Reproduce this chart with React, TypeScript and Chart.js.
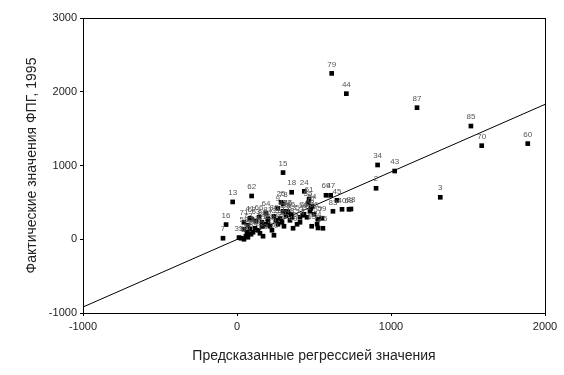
import React, { useEffect, useRef } from "react";
import { Chart, registerables } from "chart.js";

Chart.register(...registerables);

// Point labels (case numbers)
const pointLabels = [
  79, 44, 87, 85, 70, 60, 34, 43, 2, 3, 69, 47, 45, 83, 40, 68, 88, 15, 18, 24, 61, 62, 13, 16, 7, 25, 41, 64,
  9, 12, 33, 19, 39, 58, 82, 72, 75, 65,
  1, 4, 5, 6, 8, 10, 11, 14, 17, 20, 21, 22, 23, 26, 27, 28, 29, 30, 31, 32, 35, 36, 37, 38, 42, 46, 48, 49,
  50, 51, 52, 53, 54, 55, 56, 57, 59, 63, 66, 67, 71, 73, 74, 76, 77, 78, 80, 81, 84, 86,
];
// Predicted values (x)
const predicted = [
  615, 710, 1169, 1519, 1589, 1888, 913, 1024, 903, 1320, 578, 608, 649, 623, 682, 727, 740, 299, 355, 437, 468, 95, -28, -71, -91, 286, 84, 188,
  264, 325, 357, 428, 13, 45, 162, 526, 558, 485,
  26, 45, 58, 71, 91, 104, 65, 84, 117, 136, 162, 149, 169, 182, 201, 214, 227, 240, 253, 266, 279, 292, 305, 318, 299, 331, 344, 364,
  390, 409, 455, 474, 487, 461, 500, 526, 552, 123, 143, 97, 45, 71, 409, 435, 480, 300, 240, 200, 520, 350,
];
// Actual values (y)
const actual = [
  2249, 1974, 1784, 1535, 1269, 1297, 1007, 925, 691, 569, 596, 596, 528, 379, 406, 406, 410, 904, 637, 650, 542, 587, 506, 199, 14, 501, 285, 352,
  420, 379, 298, 325, 23, 136, 230, 153, 149, 176,
  14, 0, 41, 27, 68, 95, 95, 136, 149, 122, 176, 81, 41, 203, 230, 176, 122, 54, 257, 203, 285, 230, 176, 325, 379, 366, 257, 149,
  203, 298, 298, 379, 447, 488, 339, 271, 285, 244, 298, 271, 230, 190, 230, 339, 420, 480, 310, 280, 205, 340,
];
// Regression line end points
const lineX = [-1000, 2000];
const lineY = [-919, 1829];
// Axis ticks
const xTicks = [-1000, 0, 1000, 2000];
const yTicks = [-1000, 0, 1000, 2000, 3000];
const xTitle = "Предсказанные регрессией значения";
const yTitle = "Фактические значения ФПГ, 1995";

export default function App() {
  const ref = useRef<HTMLCanvasElement>(null);
  useEffect(() => {
    document.body.style.margin = "0";
    const canvas = ref.current!;
    const labelPlugin = {
      id: "labelsAndFrame",
      afterDatasetsDraw(chart: any) {
        const ctx = chart.ctx;
        const meta = chart.getDatasetMeta(1);
        ctx.save();
        ctx.font = "8px Arial, 'Liberation Sans', sans-serif";
        ctx.fillStyle = "#555";
        ctx.textAlign = "center";
        ctx.textBaseline = "middle";
        meta.data.forEach((el: any, i: number) => {
          ctx.fillText(String(pointLabels[i]), el.x, el.y - 9);
        });
        ctx.restore();
      },
      afterDraw(chart: any) {
        const ctx = chart.ctx;
        const a = chart.chartArea;
        ctx.save();
        ctx.strokeStyle = "#000";
        ctx.lineWidth = 1;
        ctx.strokeRect(Math.round(a.left) + 0.5, Math.round(a.top) + 0.5, Math.round(a.right - a.left), Math.round(a.bottom - a.top));
        ctx.fillStyle = "#222";
        ctx.font = "14px Arial, 'Liberation Sans', sans-serif";
        ctx.textAlign = "center";
        ctx.textBaseline = "middle";
        ctx.fillText(xTitle, (a.left + a.right) / 2, 356);
        ctx.translate(32, (a.top + a.bottom) / 2);
        ctx.rotate(-Math.PI / 2);
        ctx.fillText(yTitle, 0, 0);
        ctx.restore();
      },
    };
    const chart = new Chart(canvas, {
      type: "scatter",
      data: {
        datasets: [
          {
            data: lineX.map((x, i) => ({ x, y: lineY[i] })),
            showLine: true,
            borderColor: "#000",
            borderWidth: 1,
            pointRadius: 0,
            pointHoverRadius: 0,
          },
          {
            data: predicted.map((x, i) => ({ x, y: actual[i] })),
            pointStyle: "rect",
            pointRadius: 3.3,
            backgroundColor: "#000",
            borderColor: "#000",
            borderWidth: 0,
          },
        ],
      },
      options: {
        animation: false,
        responsive: false,
        maintainAspectRatio: false,
        layout: { padding: { left: 0, right: 19, top: 18, bottom: 0 } },
        plugins: { legend: { display: false }, tooltip: { enabled: false } },
        scales: {
          x: {
            type: "linear",
            min: -1000,
            max: 2000,
            afterBuildTicks: (axis: any) => {
              axis.ticks = xTicks.map((v) => ({ value: v }));
            },
            afterFit: (axis: any) => {
              axis.height = 62;
            },
            grid: { drawOnChartArea: false, drawTicks: true, tickLength: 3, color: "#000" },
            border: { display: true, color: "#000" },
            ticks: {
              color: "#222",
              font: { size: 11, family: "Arial, 'Liberation Sans', sans-serif" },
              padding: 4,
              maxRotation: 0,
              callback: (v: any) => String(v),
            },
          },
          y: {
            type: "linear",
            min: -1000,
            max: 3000,
            afterBuildTicks: (axis: any) => {
              axis.ticks = yTicks.map((v) => ({ value: v }));
            },
            afterFit: (axis: any) => {
              axis.width = 83;
            },
            grid: { drawOnChartArea: false, drawTicks: true, tickLength: 3, color: "#000" },
            border: { display: true, color: "#000" },
            ticks: {
              color: "#222",
              font: { size: 11, family: "Arial, 'Liberation Sans', sans-serif" },
              padding: 3,
              callback: (v: any) => String(v),
            },
          },
        },
      },
      plugins: [labelPlugin],
    });
    return () => chart.destroy();
  }, []);
  return (
    <div style={{ position: "absolute", left: 0, top: 0, width: 564, height: 375, background: "#fff" }}>
      <canvas ref={ref} width={564} height={375} style={{ width: 564, height: 375 }} />
    </div>
  );
}
